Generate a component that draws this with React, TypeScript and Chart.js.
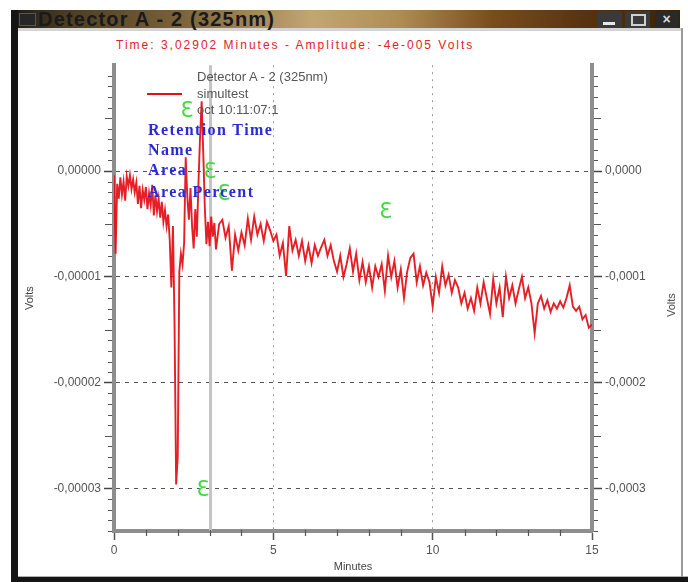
import React, { useEffect, useRef } from "react";
import { Chart, registerables } from "chart.js";

Chart.register(...registerables);

// ---- data (minutes / volts) ----
const timeMinutes = [
  0, 0.05, 0.1, 0.15, 0.2, 0.25, 0.3, 0.35, 0.4, 0.45, 0.5, 0.55, 0.6, 0.65, 0.7, 0.75, 0.8, 0.85, 0.9, 0.95,
  1.0, 1.05, 1.1, 1.15, 1.2, 1.25, 1.3, 1.35, 1.4, 1.45, 1.5, 1.55, 1.6, 1.65, 1.7, 1.75, 1.8, 1.85, 1.9, 1.95,
  2.0, 2.05, 2.1, 2.15, 2.2, 2.25, 2.3, 2.35, 2.4, 2.45, 2.5, 2.55, 2.6, 2.65, 2.7, 2.75, 2.8, 2.85, 2.9, 2.95,
  3.0, 3.05, 3.1, 3.15, 3.2,
  3.3, 3.4, 3.5, 3.6, 3.7, 3.8, 3.9, 4.0, 4.1, 4.2, 4.3, 4.4, 4.5, 4.6, 4.7, 4.8, 4.9,
  5.0, 5.1, 5.2, 5.3, 5.4, 5.5, 5.6, 5.7, 5.8, 5.9, 6.0, 6.1, 6.2, 6.3, 6.4, 6.5, 6.6, 6.7, 6.8, 6.9,
  7.0, 7.1, 7.2, 7.3, 7.4, 7.5, 7.6, 7.7, 7.8, 7.9, 8.0, 8.1, 8.2, 8.3, 8.4, 8.5, 8.6, 8.7, 8.8, 8.9,
  9.0, 9.1, 9.2, 9.3, 9.4, 9.5, 9.6, 9.7, 9.8, 9.9, 10.0, 10.1, 10.2, 10.3, 10.4, 10.5, 10.6, 10.7, 10.8, 10.9,
  11.0, 11.1, 11.2, 11.3, 11.4, 11.5, 11.6, 11.7, 11.8, 11.9, 12.0, 12.1, 12.2, 12.3, 12.4, 12.5, 12.6, 12.7, 12.8, 12.9,
  13.0, 13.1, 13.2, 13.3, 13.4, 13.5, 13.6, 13.7, 13.8, 13.9, 14.0, 14.1, 14.2, 14.3, 14.4, 14.5, 14.6, 14.7, 14.8, 14.9,
  15.0,
];

const signalVolts = [
  -0.4e-5, -7.8e-5, -1.2e-5, -2.6e-5, -0.6e-5, -2.2e-5, -1.0e-5, -2.8e-5, -0.5e-5, -1.4e-5,
  -0.4e-5, -1.7e-5, -0.8e-5, -2.0e-5, -1.1e-5, -3.1e-5, -1.4e-5, -3.5e-5, -1.8e-5, -2.7e-5,
  -1.5e-5, -3.6e-5, -2.1e-5, -3.2e-5, -1.3e-5, -4.2e-5, -2.3e-5, -3.8e-5, -2.6e-5, -4.4e-5,
  -2.9e-5, -4.8e-5, -3.7e-5, -5.2e-5, -4.1e-5, -6.6e-5, -11.0e-5, -5.2e-5, -14.5e-5, -29.6e-5,
  -27.0e-5, -9.5e-5, -7.8e-5, -8.8e-5, -6.8e-5, 1.3e-5, -2.4e-5, -4.6e-5, -1.6e-5, -5.2e-5,
  -7.3e-5, -3.6e-5, -6.2e-5, -1.2e-5, 3.2e-5, 6.6e-5, 1.8e-5, -3.4e-5, -6.9e-5, -4.8e-5,
  -7.1e-5, -4.3e-5, -6.2e-5, -4.9e-5, -7.4e-5,
  -5.0e-5, -4.6e-5, -6.3e-5, -5.2e-5, -9.4e-5, -6.0e-5, -7.5e-5, -5.8e-5, -7.0e-5, -4.5e-5,
  -6.5e-5, -4.3e-5, -6.0e-5, -5.0e-5, -6.6e-5, -4.8e-5, -5.6e-5,
  -6.6e-5, -6.0e-5, -8.0e-5, -6.8e-5, -9.9e-5, -5.2e-5, -7.5e-5, -6.5e-5, -8.0e-5, -6.6e-5,
  -8.5e-5, -7.0e-5, -8.7e-5, -7.0e-5, -8.0e-5, -7.2e-5, -6.5e-5, -8.0e-5, -7.0e-5, -8.5e-5,
  -9.5e-5, -8.0e-5, -10.0e-5, -8.8e-5, -7.3e-5, -9.5e-5, -7.8e-5, -10.3e-5, -8.6e-5, -10.5e-5,
  -9.0e-5, -11.0e-5, -9.0e-5, -10.0e-5, -8.8e-5, -11.3e-5, -8.0e-5, -10.0e-5, -8.5e-5, -11.0e-5,
  -9.3e-5, -12.0e-5, -9.5e-5, -8.2e-5, -7.8e-5, -10.5e-5, -9.0e-5, -10.8e-5, -9.6e-5, -10.5e-5,
  -12.8e-5, -10.0e-5, -11.5e-5, -9.0e-5, -10.8e-5, -9.8e-5, -11.5e-5, -10.3e-5, -11.0e-5, -12.5e-5,
  -11.5e-5, -13.0e-5, -12.0e-5, -13.2e-5, -11.0e-5, -12.5e-5, -10.5e-5, -12.0e-5, -13.5e-5, -10.2e-5,
  -12.5e-5, -11.0e-5, -13.8e-5, -10.0e-5, -12.0e-5, -10.8e-5, -12.5e-5, -11.2e-5, -10.0e-5, -12.0e-5,
  -11.0e-5, -12.5e-5, -15.3e-5, -12.5e-5, -11.8e-5, -13.0e-5, -12.2e-5, -13.3e-5, -12.5e-5, -13.0e-5,
  -12.3e-5, -12.9e-5, -12.0e-5, -10.8e-5, -12.8e-5, -13.2e-5, -12.8e-5, -14.0e-5, -13.6e-5, -14.8e-5,
  -14.5e-5,
];

const yTickValues = [0, -0.0001, -0.0002, -0.0003];
const leftTickLabels = ["0,00000", "-0,00001", "-0,00002", "-0,00003"];
const rightTickLabels = ["0,0000", "-0,0001", "-0,0002", "-0,0003"];
const xTickValues = [0, 5, 10, 15];
const xTickLabels = ["0", "5", "10", "15"];

// peak markers (green) and cursor position
const peakTimes = [2.29, 3.01, 3.45, 8.53, 2.79];
const peakLevels = [5.6e-5, -0.14e-5, -2.2e-5, -3.9e-5, -30.2e-5];
const cursorTime = 3.02902;

const Y_MIN = -0.00034;
const Y_MAX = 0.0001;

function labelFor(values: number[], labels: string[], v: number) {
  const i = values.findIndex((t) => Math.abs(t - v) < 1e-12);
  return i >= 0 ? labels[i] : "";
}

const axisFont = { family: "Arial, 'Liberation Sans', sans-serif", size: 12 };
const titleFont = { family: "Arial, 'Liberation Sans', sans-serif", size: 11 };

export default function App() {
  const canvasRef = useRef<HTMLCanvasElement>(null);

  useEffect(() => {
    const canvas = canvasRef.current;
    if (!canvas) return;
    const points = timeMinutes.map((t, i) => ({ x: t, y: signalVolts[i] }));

    const overlay = {
      id: "overlay",
      beforeDatasetsDraw(chart: any) {
        const { ctx, chartArea, scales } = chart;
        const x = scales.x.getPixelForValue(cursorTime);
        ctx.save();
        ctx.strokeStyle = "#c4c4c4";
        ctx.lineWidth = 3;
        ctx.beginPath();
        ctx.moveTo(x, chartArea.top);
        ctx.lineTo(x, chartArea.bottom);
        ctx.stroke();
        ctx.restore();
      },
      afterDraw(chart: any) {
        const { ctx, chartArea, scales } = chart;
        const ys = scales.y;
        const xs = scales.x;
        ctx.save();
        ctx.strokeStyle = "#555";
        ctx.lineWidth = 1.2;
        for (let k = -34; k <= 10; k++) {
          if (k % 10 === 0) continue;
          const y = Math.round(ys.getPixelForValue(k * 1e-5)) + 0.5;
          const len = k % 5 === 0 ? 7 : 4;
          ctx.beginPath();
          ctx.moveTo(chartArea.left - 2, y);
          ctx.lineTo(chartArea.left - 2 - len, y);
          ctx.moveTo(chartArea.right + 2, y);
          ctx.lineTo(chartArea.right + 2 + len, y);
          ctx.stroke();
        }
        for (let m = 1; m < 15; m++) {
          if (m % 5 === 0) continue;
          const x = Math.round(xs.getPixelForValue(m)) + 0.5;
          ctx.beginPath();
          ctx.moveTo(x, chartArea.bottom - 1);
          ctx.lineTo(x, chartArea.bottom + 5);
          ctx.stroke();
        }
        ctx.fillStyle = "#3fdc3f";
        ctx.font = "21px 'DejaVu Sans', sans-serif";
        ctx.textAlign = "center";
        ctx.textBaseline = "middle";
        peakTimes.forEach((t, i) => {
          ctx.fillText("\u0190", xs.getPixelForValue(t), ys.getPixelForValue(peakLevels[i]));
        });
        ctx.restore();
      },
    };

    const chart = new Chart(canvas, {
      type: "line",
      data: {
        datasets: [
          {
            label: "simultest",
            data: points,
            borderColor: "rgba(228,12,20,0.92)",
            borderWidth: 1.9,
            pointRadius: 0,
            tension: 0,
            fill: false,
          },
        ],
      },
      options: {
        responsive: false,
        animation: false,
        devicePixelRatio: 1,
        parsing: false as any,
        layout: { padding: { top: 10, left: 0, right: 0, bottom: 0 } },
        plugins: { legend: { display: false }, tooltip: { enabled: false } },
        scales: {
          x: {
            type: "linear",
            min: 0,
            max: 15,
            afterBuildTicks: (s: any) => {
              s.ticks = xTickValues.map((v) => ({ value: v }));
            },
            afterFit: (s: any) => {
              s.height = 45;
            },
            ticks: {
              color: "#555",
              font: axisFont,
              padding: 3,
              maxRotation: 0,
              autoSkip: false,
              callback: (v: any) => labelFor(xTickValues, xTickLabels, Number(v)),
            },
            grid: {
              color: "#9a9a9a",
              lineWidth: 1,
              tickLength: 9,
              tickColor: "#555",
              tickWidth: 1.5,
              tickBorderDash: [],
            },
            border: { display: true, color: "#8e8e8e", width: 4, dash: [2, 5] },
            title: {
              display: true,
              text: "Minutes",
              color: "#444",
              font: titleFont,
              padding: { top: 0, bottom: 2 },
            },
          },
          y: {
            type: "linear",
            position: "left",
            min: Y_MIN,
            max: Y_MAX,
            afterBuildTicks: (s: any) => {
              s.ticks = yTickValues.map((v) => ({ value: v }));
            },
            afterFit: (s: any) => {
              s.width = 96;
            },
            ticks: {
              color: "#555",
              font: axisFont,
              padding: 3,
              autoSkip: false,
              callback: (v: any) => labelFor(yTickValues, leftTickLabels, Number(v)),
            },
            grid: {
              color: "#555",
              lineWidth: 1,
              tickLength: 10,
              tickColor: "#444",
              tickWidth: 1.5,
              tickBorderDash: [],
            },
            border: { display: true, color: "#8e8e8e", width: 4, dash: [4, 5] },
            title: {
              display: true,
              text: "Volts",
              color: "#444",
              font: titleFont,
              padding: { top: 5, bottom: 0 },
            },
          },
          y2: {
            type: "linear",
            position: "right",
            min: Y_MIN,
            max: Y_MAX,
            afterBuildTicks: (s: any) => {
              s.ticks = yTickValues.map((v) => ({ value: v }));
            },
            afterFit: (s: any) => {
              s.width = 86;
            },
            ticks: {
              color: "#555",
              font: axisFont,
              padding: 3,
              autoSkip: false,
              callback: (v: any) => labelFor(yTickValues, rightTickLabels, Number(v)),
            },
            grid: {
              drawOnChartArea: false,
              color: "#555",
              tickLength: 10,
              tickColor: "#444",
              tickWidth: 1.5,
              tickBorderDash: [],
            },
            border: { display: true, color: "#8e8e8e", width: 4 },
            title: { display: false },
          },
        },
      },
      plugins: [overlay],
    } as any);

    return () => chart.destroy();
  }, []);

  const abs = (s: React.CSSProperties): React.CSSProperties => ({ position: "absolute", ...s });
  const serifBlue: React.CSSProperties = {
    position: "absolute",
    left: 148,
    fontFamily: "'Liberation Serif', 'Times New Roman', serif",
    fontWeight: "bold",
    fontSize: 16,
    letterSpacing: 1.4,
    color: "#2a2ad6",
    lineHeight: "16px",
    whiteSpace: "nowrap",
  };
  const greyText: React.CSSProperties = {
    position: "absolute",
    left: 197,
    fontFamily: "Arial, 'Liberation Sans', sans-serif",
    fontSize: 13,
    color: "#555",
    lineHeight: "14px",
    whiteSpace: "nowrap",
  };

  return (
    <div
      style={{
        position: "absolute",
        left: 0,
        top: 0,
        width: 688,
        height: 582,
        background: "#fff",
        overflow: "hidden",
        fontFamily: "Arial, 'Liberation Sans', sans-serif",
      }}
    >
      {/* window frame */}
      <div
        style={abs({
          left: 11,
          top: 10,
          width: 669,
          height: 18,
          background:
            "linear-gradient(90deg, #1e1a12 0%, #4a3c22 8%, #7a6238 25%, #c2a672 45%, #b08c55 58%, #7a4c1c 72%, #5a3410 85%, #3a2208 100%)",
        })}
      />
      <div style={abs({ left: 18, top: 28, width: 663, height: 3, background: "#d4d4d4" })} />
      <div style={abs({ left: 19, top: 13, width: 15, height: 11, background: "#262626", border: "1px solid #555" })} />
      <div
        style={abs({
          left: 38,
          top: 8,
          fontWeight: "bold",
          fontSize: 20,
          letterSpacing: 1.2,
          lineHeight: "22px",
          color: "#1a1a1a",
          whiteSpace: "nowrap",
        })}
      >
        Detector A - 2 (325nm)
      </div>
      <div style={abs({ left: 597, top: 11, width: 25, height: 17, background: "#3a3a3a" })}>
        <div style={abs({ left: 6, top: 11, width: 12, height: 3, background: "#e8e8e8" })} />
      </div>
      <div style={abs({ left: 625, top: 11, width: 25, height: 17, background: "#3a3a3a" })}>
        <div style={abs({ left: 6, top: 3, width: 11, height: 8, border: "2px solid #d0d0d0" })} />
      </div>
      <div
        style={abs({
          left: 655,
          top: 11,
          width: 23,
          height: 17,
          background: "#2a2a2a",
          color: "#d8d8d8",
          fontSize: 14,
          fontWeight: "bold",
          lineHeight: "17px",
          textAlign: "center",
        })}
      >
        ×
      </div>
      <div style={abs({ left: 11, top: 10, width: 7, height: 572, background: "#151515" })} />
      <div style={abs({ left: 18, top: 576, width: 670, height: 1, background: "#b0b0b0" })} />
      <div style={abs({ left: 11, top: 577, width: 677, height: 5, background: "#151515" })} />
      <div style={abs({ left: 681, top: 28, width: 2, height: 549, background: "#9a9a9a" })} />

      {/* header */}
      <div
        style={abs({
          left: 116,
          top: 38,
          fontSize: 12,
          letterSpacing: 2,
          color: "#e52222",
          lineHeight: "14px",
          whiteSpace: "nowrap",
        })}
      >
        Time: 3,02902 Minutes - Amplitude: -4e-005 Volts
      </div>

      {/* chart */}
      <canvas
        ref={canvasRef}
        width={660}
        height={521}
        style={{ position: "absolute", left: 18, top: 55, width: 660, height: 521 }}
      />

      {/* right axis title */}
      <div
        style={abs({
          left: 671,
          top: 305,
          transform: "translate(-50%, -50%) rotate(-90deg)",
          fontSize: 11,
          color: "#444",
          whiteSpace: "nowrap",
        })}
      >
        Volts
      </div>

      {/* legend block */}
      <div style={{ ...greyText, top: 70 }}>Detector A - 2 (325nm)</div>
      <div style={abs({ left: 147, top: 93, width: 35, height: 2, background: "#e21018" })} />
      <div style={{ ...greyText, top: 87 }}>simultest</div>
      <div style={{ ...greyText, top: 103 }}>oct 10:11:07:1</div>

      <div style={{ ...serifBlue, top: 122 }}>Retention Time</div>
      <div style={{ ...serifBlue, top: 142 }}>Name</div>
      <div style={{ ...serifBlue, top: 162 }}>Area</div>
      <div style={{ ...serifBlue, top: 184 }}>Area Percent</div>
    </div>
  );
}
